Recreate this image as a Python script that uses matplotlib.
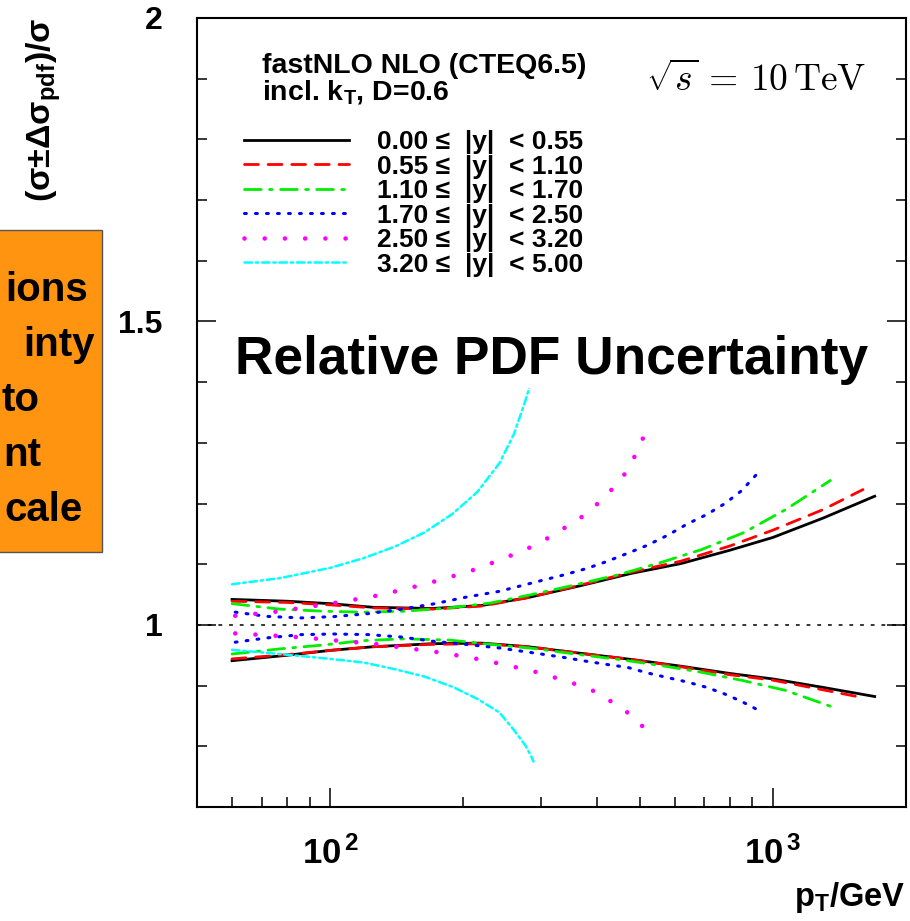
import numpy as np
import matplotlib
matplotlib.use("Agg")
import matplotlib.pyplot as plt
from matplotlib.ticker import FixedLocator, FixedFormatter, NullFormatter
from matplotlib.patches import Rectangle

plt.rcParams['font.family'] = ['Liberation Sans', 'DejaVu Sans']
plt.rcParams['font.weight'] = 'bold'
plt.rcParams['mathtext.fontset'] = 'custom'
plt.rcParams['mathtext.rm'] = 'Liberation Sans:bold'
plt.rcParams['mathtext.bf'] = 'Liberation Sans:bold'
plt.rcParams['mathtext.it'] = 'Liberation Sans:bold'

# --- data: relative PDF uncertainty (upper / lower edge) per rapidity bin ---
labels = ["0.00 \u2264  |y|  < 0.55", "0.55 \u2264  |y|  < 1.10", "1.10 \u2264  |y|  < 1.70",
          "1.70 \u2264  |y|  < 2.50", "2.50 \u2264  |y|  < 3.20", "3.20 \u2264  |y|  < 5.00"]

pt_k = [60, 80, 100, 125, 170, 220, 280, 370, 480, 620, 800, 1000, 1300, 1700]
up_k = [1.042, 1.039, 1.035, 1.029, 1.027, 1.032, 1.045, 1.065, 1.085, 1.101, 1.123, 1.144, 1.176, 1.212]
lo_k = [0.941, 0.950, 0.958, 0.964, 0.969, 0.970, 0.964, 0.953, 0.943, 0.932, 0.920, 0.911, 0.897, 0.882]

pt_r = [60, 80, 100, 125, 170, 220, 280, 370, 480, 620, 800, 1000, 1300, 1600]
up_r = [1.039, 1.037, 1.033, 1.028, 1.026, 1.031, 1.045, 1.066, 1.087, 1.105, 1.130, 1.156, 1.190, 1.223]
lo_r = [0.944, 0.951, 0.958, 0.964, 0.968, 0.969, 0.964, 0.953, 0.943, 0.931, 0.918, 0.909, 0.893, 0.880]

pt_g = [60, 77, 97, 118, 147, 186, 230, 290, 358, 450, 560, 690, 860, 1070, 1350]
up_g = [1.035, 1.026, 1.0225, 1.021, 1.0225, 1.028, 1.036, 1.051, 1.066, 1.083, 1.103, 1.124, 1.152, 1.190, 1.238]
lo_g = [0.952, 0.9605, 0.967, 0.974, 0.977, 0.975, 0.968, 0.961, 0.952, 0.943, 0.933, 0.922, 0.908, 0.892, 0.866]

pt_b = [61, 72, 86, 102, 122, 145, 171, 202, 241, 300, 340, 380, 420, 470, 520, 580, 640, 710, 780, 850, 925]
up_b = [1.021, 1.014, 1.0115, 1.0137, 1.0186, 1.026, 1.0345, 1.0455, 1.0553, 1.073, 1.083, 1.093, 1.104,
        1.118, 1.131, 1.148, 1.166, 1.182, 1.200, 1.221, 1.250]
lo_b = [0.9715, 0.9786, 0.984, 0.985, 0.984, 0.980, 0.973, 0.968, 0.962, 0.952, 0.946, 0.940, 0.935,
        0.930, 0.921, 0.913, 0.906, 0.897, 0.886, 0.874, 0.860]

pt_m = [61, 74, 88, 104, 125, 148, 175, 208, 246, 290, 312, 337, 363, 389, 415, 443, 467, 487, 506, 520]
up_m = [1.015, 1.021, 1.029, 1.037, 1.047, 1.059, 1.073, 1.089, 1.109, 1.131, 1.144, 1.159, 1.173,
        1.190, 1.209, 1.231, 1.252, 1.277, 1.302, 1.328]
lo_m = [0.986, 0.9825, 0.979, 0.974, 0.969, 0.962, 0.955, 0.946, 0.935, 0.923, 0.916, 0.909, 0.901,
        0.893, 0.882, 0.868, 0.857, 0.846, 0.834, 0.826]

pt_c = [60, 77, 100, 119, 140, 163, 189, 215, 241, 260, 276, 284, 288]
up_c = [1.067, 1.077, 1.094, 1.110, 1.129, 1.152, 1.183, 1.219, 1.266, 1.314, 1.369, 1.399, 1.415]
lo_c = [0.959, 0.952, 0.944, 0.938, 0.927, 0.915, 0.898, 0.878, 0.856, 0.827, 0.8015, 0.785, 0.775]

series = [(pt_k, up_k, lo_k), (pt_r, up_r, lo_r), (pt_g, up_g, lo_g),
          (pt_b, up_b, lo_b), (pt_m, up_m, lo_m), (pt_c, up_c, lo_c)]

colors = ['black', '#ff0000', '#00ee00', '#0000ff', '#ff00ff', '#00ffff']
styles = ['-', (0, (5, 3.5)), (0, (6, 3, 1, 3)), (0, (0.6, 3.0)), (0, (0.01, 4.4)), (0, (3, 1.5, 1, 1.5))]
widths = [2.0, 2.0, 2.0, 2.2, 3.3, 1.8]

fig = plt.figure(figsize=(9.10, 9.21), dpi=100)
ax = fig.add_axes([0.2165, 0.1238, 0.779, 0.8567])

handles = []
for (pt, up, lo), c, ls, lw, lab in zip(series, colors, styles, widths, labels):
    h, = ax.plot(pt, up, color=c, ls=ls, lw=lw, dash_capstyle='round', label=lab)
    ax.plot(pt, lo, color=c, ls=ls, lw=lw, dash_capstyle='round')
    handles.append(h)

ax.axhline(1.0, color='black', ls=(0, (2.5, 4.5)), lw=1.1)

ax.set_xscale('log')
ax.set_xlim(50, 2000)
ax.set_ylim(0.7, 2.0)

ax.xaxis.set_major_locator(FixedLocator([100, 1000]))
ax.xaxis.set_major_formatter(FixedFormatter([r'$\mathbf{10^{\,2}}$', r'$\mathbf{10^{\,3}}$']))
ax.xaxis.set_minor_locator(FixedLocator([60, 70, 80, 90, 200, 300, 400, 500, 600, 700, 800, 900]))
ax.xaxis.set_minor_formatter(NullFormatter())
ax.yaxis.set_major_locator(FixedLocator([1.0, 1.5, 2.0]))
ax.yaxis.set_major_formatter(FixedFormatter(['1', '1.5', '2']))
ax.yaxis.set_minor_locator(FixedLocator(np.arange(0.7, 2.0, 0.1)))

ax.tick_params(axis='both', which='both', direction='in', width=1.1, right=True, top=False)
ax.tick_params(axis='both', which='major', length=14)
ax.tick_params(axis='both', which='minor', length=7)
ax.tick_params(axis='y', which='major', labelsize=23, pad=25)
ax.tick_params(axis='x', which='major', labelsize=25, pad=21)
for sp in ax.spines.values():
    sp.set_linewidth(1.5)

leg = ax.legend(handles=handles, loc='upper left', bbox_to_anchor=(0.066, 0.858), frameon=False,
                fontsize=19, handlelength=4.0, handletextpad=1.05, labelspacing=0.02,
                borderpad=0, borderaxespad=0)

ax.text(0.0917, 0.956, 'fastNLO NLO (CTEQ6.5)\nincl. k$_\\mathbf{T}$, D=0.6', transform=ax.transAxes,
        fontsize=20.5, va='top', ha='left', linespacing=0.98)

ax.text(0.788, 0.921, r'$\sqrt{s}\,=\,10\,\mathrm{TeV}$', transform=ax.transAxes,
        fontsize=27, ha='center', va='center', math_fontfamily='cm', fontweight='normal')

ax.text(0.5007, 0.5665, 'Relative PDF Uncertainty', transform=ax.transAxes, fontsize=38.3,
        ha='center', va='center', bbox=dict(facecolor='white', edgecolor='none', pad=2))

fig.text(905 / 910, 1 - 897 / 921, 'p$_\\mathbf{T}$/GeV', fontsize=23.5, ha='right', va='center')
fig.text(44 / 910, 1 - 17 / 921, '(\u03c3\u00b1\u0394\u03c3$_\\mathbf{pdf}$)/\u03c3', fontsize=24.5,
         rotation=90, ha='center', va='top')

# orange annotation box, cut off by the left edge of the slide
fig.patches.append(Rectangle((-0.01, 1 - 552 / 921), 0.01 + 102 / 910, (552 - 230) / 921,
                             transform=fig.transFigure, facecolor='#ff9410', edgecolor='#555555', lw=1))
box_lines = ['ions', 'inty', 'to', 'nt', 'cale']
box_ends = [88, 95, 40, 41, 83]
box_y = [290, 345, 400, 455, 510]
for txt, xe, yc in zip(box_lines, box_ends, box_y):
    fig.text(xe / 910, 1 - yc / 921, txt, fontsize=29, ha='right', va='center')

fig.savefig('out.png', dpi=100)
